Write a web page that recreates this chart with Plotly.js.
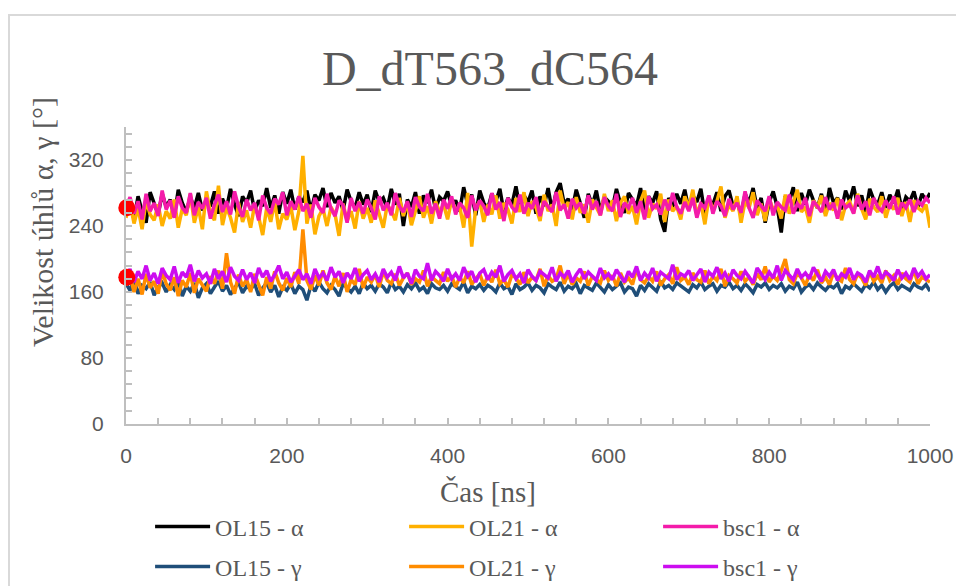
<!DOCTYPE html>
<html>
<head>
<meta charset="utf-8">
<script src="https://cdn.plot.ly/plotly-3.0.1.min.js"></script>
<style>
  html, body { margin:0; padding:0; background:#ffffff; }
  #wrap { position:relative; width:956px; height:586px; overflow:hidden; }
  #frame { position:absolute; left:8px; top:14px; width:1000px; height:600px; border-left:2px solid #d9d9d9; border-top:2px solid #d9d9d9; pointer-events:none; }
  #chart { position:absolute; left:0; top:0; width:956px; height:586px; }
</style>
</head>
<body>
<div id="wrap"><div id="chart"></div><div id="frame"></div></div>
<script>
// sampling grid of the simulation (ns), one sample every 5 ns
const time = Array.from({length: 201}, (_, i) => i * 5);

const seriesNames = ["OL15 - α", "OL21 - α", "bsc1 - α", "OL15 - γ", "OL21 - γ", "bsc1 - γ"];

const ol15Alpha = [
262,270,248,276,258,244,281,266,254,279,
263,272,251,284,268,257,275,262,280,259,
270,264,282,255,273,261,285,266,252,276,
268,283,258,271,264,286,262,277,255,281,
267,284,260,275,269,283,258,278,271,286,
263,280,268,276,259,284,270,262,281,266,
278,257,283,269,274,261,285,266,279,240,
272,263,281,255,277,268,284,260,275,270,
282,264,271,258,287,266,278,253,283,268,
261,279,270,285,257,274,266,288,262,277,
269,283,255,276,264,286,259,281,292,267,
273,260,284,268,250,279,265,283,258,275,
270,262,285,267,256,280,271,264,286,259,
276,268,282,248,233,274,263,279,267,284,
260,277,269,285,254,272,266,281,258,276,
283,264,271,252,279,268,286,261,274,244,
269,282,263,232,276,270,287,258,280,266,
284,271,262,279,255,286,268,274,260,283,
270,288,264,277,257,285,272,266,281,262,
278,268,284,259,275,270,282,263,279,271,
280];

const ol21Alpha = [
250,268,243,262,236,271,254,247,266,240,
258,249,272,238,261,253,279,244,263,236,
282,256,247,289,241,263,250,232,268,245,
259,238,266,251,229,262,245,270,236,255,
248,264,235,258,325,243,266,230,252,261,
240,263,254,228,267,246,258,237,270,249,
262,244,271,255,238,266,258,247,274,252,
268,241,260,276,250,264,243,270,257,266,
248,272,259,264,238,280,215,262,270,245,
266,254,277,249,268,260,243,274,257,281,
252,270,262,246,278,258,266,240,283,261,
269,248,275,256,266,244,272,262,253,279,
258,271,246,268,276,255,264,242,270,283,
250,267,261,279,245,272,258,264,248,276,
262,284,253,268,242,275,259,270,288,250,
266,258,276,244,270,262,281,253,267,246,
273,260,265,249,278,255,269,284,257,263,
244,271,262,277,252,268,259,274,247,265,
270,256,279,261,248,273,263,257,276,250,
267,260,274,252,269,245,271,262,258,266,
238];

const bsc1Alpha = [
262,275,255,270,248,279,258,268,252,283,
260,271,250,276,262,256,280,253,269,261,
274,249,266,278,257,270,254,282,263,251,
272,259,268,247,277,262,255,273,266,281,
253,270,260,276,258,267,250,274,263,256,
279,261,252,271,265,244,274,258,269,255,
272,262,248,276,259,268,253,280,264,257,
270,251,275,263,258,279,255,267,249,272,
261,276,254,268,262,250,277,259,271,264,
253,280,260,269,246,274,263,257,278,255,
268,261,275,252,270,264,257,281,259,266,
249,273,262,268,255,277,260,270,253,275,
264,258,279,251,268,262,274,256,270,248,
276,261,266,254,272,259,280,263,255,269,
258,274,250,267,262,277,255,270,264,252,
273,260,268,256,282,262,250,271,265,258,
276,253,269,263,259,278,255,267,261,274,
252,270,264,257,275,260,268,249,272,262,
266,255,277,260,270,253,274,263,258,271,
261,276,254,268,262,272,257,270,265,274,
268];

const ol15Gamma = [
170,162,175,158,168,164,172,156,166,171,
160,169,163,174,155,167,161,171,153,165,
170,158,166,173,161,168,157,164,172,159,
167,163,170,156,165,171,160,168,154,166,
162,170,158,167,163,150,168,161,172,164,
159,168,163,155,170,165,160,167,158,171,
164,168,161,170,166,159,172,163,167,160,
169,164,171,162,166,158,170,165,163,168,
161,170,166,163,172,159,167,164,169,162,
168,165,160,171,164,167,157,170,163,166,
171,162,168,165,159,170,166,163,172,161,
167,164,170,158,168,165,162,171,166,160,
169,163,167,171,160,166,164,155,168,162,
170,166,161,173,165,168,163,171,167,164,
160,169,165,172,163,167,170,161,168,166,
172,164,168,162,170,165,159,169,166,171,
163,168,165,170,161,167,164,172,160,166,
169,163,171,166,162,168,165,170,158,167,
164,170,166,161,169,165,172,163,168,160,
167,171,163,168,165,162,170,166,164,169,
161];

const ol21Gamma = [
168,180,160,176,157,182,165,173,158,185,
170,162,178,155,174,166,183,159,176,168,
161,179,170,186,164,207,172,158,181,167,
175,160,182,169,156,178,164,185,171,162,
177,166,184,170,236,174,163,180,168,186,
171,163,179,167,183,160,175,169,188,165,
178,172,181,166,185,174,170,182,168,177,
183,169,176,172,186,167,179,174,170,184,
173,180,166,178,171,185,169,176,182,168,
179,172,187,170,175,166,181,177,169,184,
171,178,174,188,167,180,173,176,192,170,
182,169,177,173,185,168,179,175,171,186,
174,180,167,183,172,177,169,188,175,171,
179,173,185,168,176,181,170,190,174,178,
169,183,175,172,186,170,179,174,188,167,
180,176,171,185,173,178,169,182,175,191,
172,179,174,186,200,175,170,183,177,168,
181,174,187,171,178,169,184,176,173,189,
175,170,182,177,168,185,173,179,171,186,
174,180,169,183,176,172,187,170,178,175,
172];

const bsc1Gamma = [
178,188,172,185,176,192,174,183,170,189,
180,175,191,171,184,178,193,173,186,177,
182,170,188,176,185,172,190,179,174,187,
175,183,171,189,178,186,173,181,192,176,
184,172,179,187,175,182,170,188,177,183,
174,190,178,185,171,183,176,189,173,181,
186,175,182,172,188,178,184,174,191,177,
183,170,187,179,176,195,174,185,180,173,
188,176,182,174,190,179,185,172,183,187,
175,184,178,192,173,181,186,176,182,171,
187,179,174,185,181,177,190,173,183,178,
186,172,181,188,176,184,179,174,189,177,
182,175,187,180,172,185,178,191,174,183,
177,189,173,184,180,176,193,175,182,179,
186,174,181,188,172,184,179,190,176,183,
173,187,180,176,185,178,171,189,182,175,
184,177,192,174,186,180,175,188,178,183,
176,190,181,173,185,179,187,174,182,178,
189,175,183,180,172,186,178,191,176,184,
180,174,187,177,183,175,189,179,185,176,
181];

// highlighted start points
const startTime = [1, 1];
const startAngle = [262, 178];

const colors = ["#000000", "#FFB000", "#F41BAA", "#1F4E79", "#FF8C00", "#CC0DF0"];
const values = [ol15Alpha, ol21Alpha, bsc1Alpha, ol15Gamma, ol21Gamma, bsc1Gamma];
const legendIds = ["legend", "legend", "legend", "legend2", "legend2", "legend2"];

const traces = values.map((v, i) => ({
  type: "scatter",
  mode: "lines",
  x: time,
  y: v,
  name: seriesNames[i],
  legend: legendIds[i],
  line: { color: colors[i], width: 3.5 },
  hoverinfo: "x+y+name"
}));

traces.push({
  type: "scatter",
  mode: "markers",
  x: startTime,
  y: startAngle,
  showlegend: false,
  cliponaxis: false,
  marker: { color: "#FF0000", size: 17, line: { width: 0 } },
  hoverinfo: "x+y"
});

const tickFont = { family: "Liberation Sans, Arial, sans-serif", size: 21, color: "#595959" };
const serif = "Liberation Serif, Times New Roman, serif";
const legendCommon = {
  orientation: "h",
  xref: "container", yref: "container",
  x: 0.157, xanchor: "left", yanchor: "middle",
  entrywidth: 184, entrywidthmode: "pixels",
  itemwidth: 55,
  font: { family: serif, size: 24, color: "#595959" },
  bgcolor: "rgba(0,0,0,0)",
  borderwidth: 0
};

const layout = {
  width: 956, height: 586,
  margin: { l: 126, r: 26, t: 127, b: 162 },
  paper_bgcolor: "#ffffff",
  plot_bgcolor: "#ffffff",
  title: {
    text: "D_dT563_dC564",
    font: { family: serif, size: 48, color: "#595959" },
    xref: "container", yref: "container",
    x: 0.5125, xanchor: "center", y: 0.884, yanchor: "middle"
  },
  xaxis: {
    range: [0, 1000],
    tick0: 0, dtick: 200,
    showgrid: false, zeroline: false,
    showline: true, linecolor: "#bfbfbf", linewidth: 2,
    ticks: "inside", ticklen: 6, tickcolor: "#bfbfbf", tickwidth: 1.5,
    minor: { dtick: 40, ticks: "inside", ticklen: 6, tickcolor: "#bfbfbf", tickwidth: 1.5, showgrid: false },
    ticklabelstandoff: 12,
    tickfont: tickFont
  },
  yaxis: {
    range: [0, 360],
    tick0: 0, dtick: 80,
    showgrid: false, zeroline: false,
    showline: true, linecolor: "#bfbfbf", linewidth: 2,
    ticks: "inside", ticklen: 6, tickcolor: "#bfbfbf", tickwidth: 1.5,
    minor: { dtick: 16, ticks: "inside", ticklen: 6, tickcolor: "#bfbfbf", tickwidth: 1.5, showgrid: false },
    ticklabelstandoff: 16,
    tickfont: tickFont
  },
  annotations: [
    {
      text: "Velikost úhlů α, γ [°]",
      xref: "paper", yref: "paper",
      x: -0.1045, y: 0.68, xanchor: "center", yanchor: "middle",
      textangle: -90, showarrow: false,
      font: { family: serif, size: 30, color: "#595959" }
    },
    {
      text: "Čas [ns]",
      xref: "paper", yref: "paper",
      x: 0.4502, y: -0.229, xanchor: "center", yanchor: "middle",
      showarrow: false,
      font: { family: serif, size: 29, color: "#595959" }
    }
  ],
  showlegend: true,
  legend: Object.assign({}, legendCommon, { y: 0.1007 }),
  legend2: Object.assign({}, legendCommon, { y: 0.0324 })
};

Plotly.newPlot("chart", traces, layout, { displayModeBar: false, staticPlot: false });
</script>
</body>
</html>
